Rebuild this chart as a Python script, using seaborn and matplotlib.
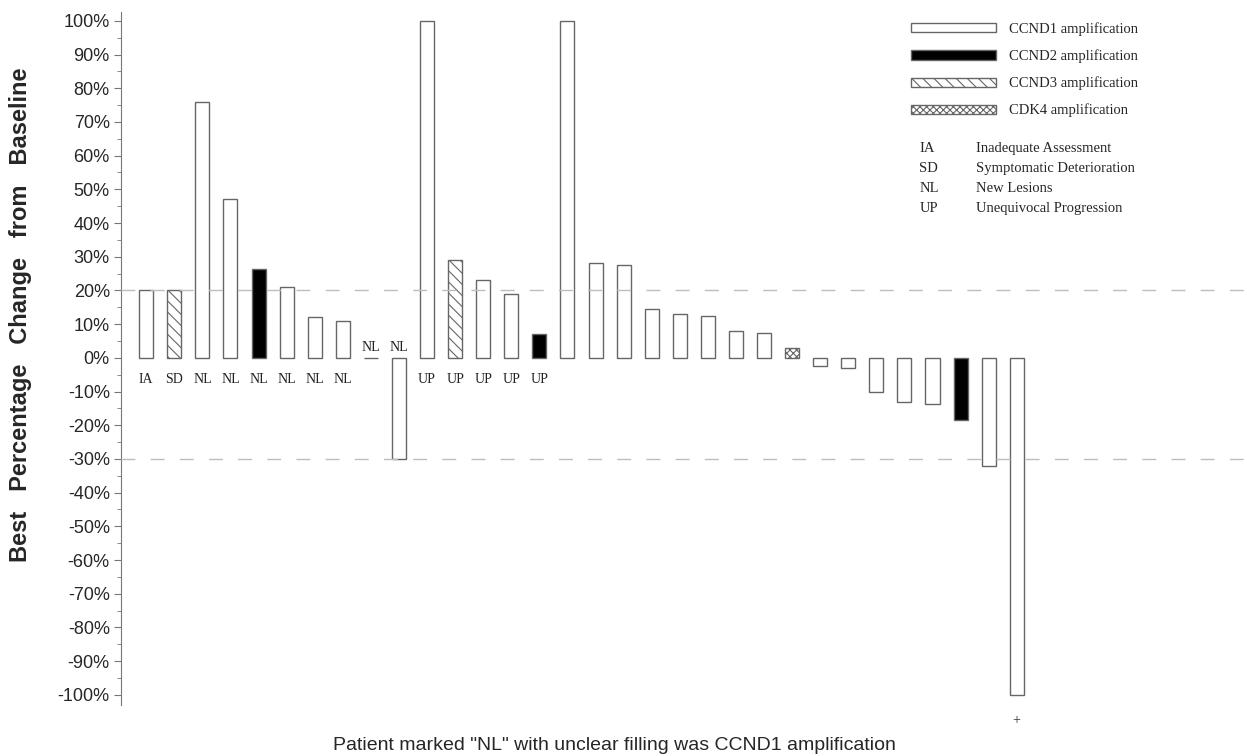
import matplotlib
matplotlib.use("Agg")
import matplotlib.pyplot as plt
from matplotlib.patches import Patch
from matplotlib.ticker import MultipleLocator, FuncFormatter
import seaborn as sns

# ---- data ----
patients = [f"P{i:02d}" for i in range(1, 33)]
best_change = [20, 20, 76, 47, 26.5, 21, 12, 11, 0, -30,
               100, 29, 23, 19, 7, 100, 28, 27.5, 14.5, 13,
               12.5, 8, 7.5, 3, -2.5, -3, -10, -13, -13.8, -18.3,
               -32, -100]
amplification = ["CCND1", "CCND3", "CCND1", "CCND1", "CCND2", "CCND1", "CCND1", "CCND1", "CCND1", "CCND1",
                 "CCND1", "CCND3", "CCND1", "CCND1", "CCND2", "CCND1", "CCND1", "CCND1", "CCND1", "CCND1",
                 "CCND1", "CCND1", "CCND1", "CDK4", "CCND1", "CCND1", "CCND1", "CCND1", "CCND1", "CCND2",
                 "CCND1", "CCND1"]
progression = ["IA", "SD", "NL", "NL", "NL", "NL", "NL", "NL", "NL", "NL",
               "UP", "UP", "UP", "UP", "UP"] + [""] * 17
extra_mark = [""] * 31 + ["+"]
thresholds = [20, -30]

abbrev = ["IA", "SD", "NL", "UP"]
abbrev_text = ["Inadequate Assessment", "Symptomatic Deterioration",
               "New Lesions", "Unequivocal Progression"]

# style per amplification: (facecolor, hatch)
amp_style = {
    "CCND1": ("white", ""),
    "CCND2": ("black", ""),
    "CCND3": ("white", "\\\\\\"),
    "CDK4": ("white", "xxxxx"),
}
edge = "#666666"

sns.set_style("ticks")
plt.rcParams["hatch.linewidth"] = 0.8
plt.rcParams["font.family"] = ["Liberation Sans", "DejaVu Sans"]

fig = plt.figure(figsize=(12.47, 7.56), dpi=100)
ax = fig.add_axes([0.097, 0.0675, 0.903, 0.917])

sns.barplot(x=patients, y=best_change, order=patients, color="white",
            edgecolor=edge, linewidth=1, width=0.5, ax=ax, zorder=2)

for patch, amp in zip(ax.patches, amplification):
    fc, hatch = amp_style[amp]
    patch.set_facecolor(fc)
    patch.set_edgecolor(edge)
    patch.set_hatch(hatch)

# response threshold lines
for t in thresholds:
    ax.axhline(t, color="#bdbdbd", lw=1, ls=(0, (10, 11)), zorder=3)

# progression labels
serif = ["Liberation Serif", "DejaVu Serif"]
for i, (lab, v) in enumerate(zip(progression, best_change)):
    if not lab:
        continue
    y = 3.2 if v <= 0 else -6.5
    ax.text(i, y, lab, ha="center", va="center", fontsize=10, family=serif, color="#222222")
for i, (m, v) in enumerate(zip(extra_mark, best_change)):
    if m:
        ax.text(i, v - 7.5, m, ha="center", va="center", fontsize=10,
                family=serif, color="#333333", clip_on=False)

ax.set_xlim(-0.9, 39.2)
ax.set_ylim(-103, 102.7)
ax.yaxis.set_major_locator(MultipleLocator(10))
ax.yaxis.set_minor_locator(MultipleLocator(5))
ax.yaxis.set_major_formatter(FuncFormatter(lambda v, p: f"{v:.0f}%"))
ax.tick_params(axis="y", which="major", length=5, color="#777777", labelsize=13, pad=3)
ax.tick_params(axis="y", which="minor", length=3, color="#777777")
ax.set_xticks([])
sns.despine(ax=ax, bottom=True)
ax.spines["left"].set_color("#777777")

ax.set_ylabel("Best   Percentage   Change   from   Baseline", fontsize=17,
              fontweight="bold", va="center")
ax.yaxis.set_label_coords(-0.0888, 0.563)
ax.set_xlabel('Patient marked "NL" with unclear filling was CCND1 amplification',
              fontsize=14, va="center")
ax.xaxis.set_label_coords(0.438, -0.058)

# legend of amplification types
handles = [Patch(facecolor=amp_style[k][0], hatch=amp_style[k][1], edgecolor=edge, lw=1,
                 label=f"{k} amplification") for k in amp_style]
ax.legend(handles=handles, loc="upper left", bbox_to_anchor=(0.702, 0.985), frameon=False,
          borderpad=0, borderaxespad=0, handlelength=5.8, handleheight=0.6,
          handletextpad=0.9, labelspacing=0.92, prop={"family": serif, "size": 10.5})

for k, (a, txt) in enumerate(zip(abbrev, abbrev_text)):
    yy = 0.803 - k * 0.0288
    ax.text(0.709, yy, a, transform=ax.transAxes, va="center", fontsize=10.5, family=serif)
    ax.text(0.759, yy, txt, transform=ax.transAxes, va="center", fontsize=10.5, family=serif)

fig.savefig("out.png", dpi=100, facecolor="white")
